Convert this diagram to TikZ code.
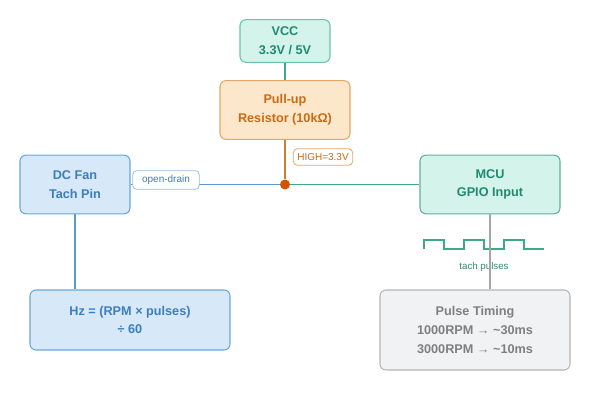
\documentclass[tikz,border=0pt]{standalone}
\usepackage{fontspec}
\setmainfont{Liberation Sans}
\usepackage{tikz}
\usetikzlibrary{positioning}
\definecolor{TealFill}{HTML}{D4F3EA}
\definecolor{TealDraw}{HTML}{6CC4A8}
\definecolor{TealText}{HTML}{1F8A70}
\definecolor{TealWire}{HTML}{3DA88A}
\definecolor{OrangeFill}{HTML}{FDE7CB}
\definecolor{OrangeDraw}{HTML}{E5A66A}
\definecolor{OrangeText}{HTML}{CC6A12}
\definecolor{OrangeWire}{HTML}{D97A36}
\definecolor{DotOrange}{HTML}{D35400}
\definecolor{BlueFill}{HTML}{D7E9F8}
\definecolor{BlueDraw}{HTML}{6AA6D6}
\definecolor{BlueText}{HTML}{3C7DBD}
\definecolor{BlueWire}{HTML}{5B9BD0}
\definecolor{GrayFill}{HTML}{F1F2F3}
\definecolor{GrayDraw}{HTML}{B5B5B5}
\definecolor{GrayText}{HTML}{7F7F7F}
\definecolor{GrayWire}{HTML}{A5A5A5}
\tikzset{
    box/.style={rectangle, rounded corners=4.5pt, align=center, inner sep=2pt,
        line width=0.8pt, font=\bfseries\fontsize{9.5}{14}\selectfont},
    tealbox/.style={box, draw=TealDraw, fill=TealFill, text=TealText},
    orangebox/.style={box, draw=OrangeDraw, fill=OrangeFill, text=OrangeText},
    bluebox/.style={box, draw=BlueDraw, fill=BlueFill, text=BlueText},
    graybox/.style={box, draw=GrayDraw, fill=GrayFill, text=GrayText},
    tag/.style={rectangle, rounded corners=3pt, fill=white, inner xsep=3pt, inner ysep=3.5pt,
        line width=0.6pt, font=\fontsize{7.5}{9}\selectfont},
    wire/.style={line width=1.2pt},
    pulse/.style={line width=1.5pt, draw=TealWire}
}
\begin{document}
\begin{tikzpicture}[x=0.75pt, y=-0.75pt]
    \useasboundingbox (0,0) rectangle (600,400);
    \node[tealbox, minimum width=67.5pt, minimum height=32pt] (vcc) at (285,41)
        {VCC\\3.3V / 5V};
    \node[orangebox, minimum width=97.5pt, minimum height=44pt] (pullup) at (285,110)
        {Pull-up\\Resistor (10kΩ)};
    \node[bluebox, minimum width=82.5pt, minimum height=44pt] (fan) at (75,184.5)
        {DC Fan\\Tach Pin};
    \node[tealbox, draw=TealDraw!90!black, minimum width=105pt, minimum height=44pt] (mcu) at (490,184.5)
        {MCU\\GPIO Input};
    \node[bluebox, minimum width=150pt, minimum height=45pt] (hz) at (130,320)
        {Hz = (RPM × pulses)\\÷ 60};
    \node[graybox, minimum width=142.5pt, minimum height=60pt] (timing) at (475,330)
        {Pulse Timing\\1000RPM → \textasciitilde30ms\\3000RPM → \textasciitilde10ms};
    \node[circle, fill=DotOrange, inner sep=0pt, minimum size=7.5pt] (dot) at (285,184.5) {};
    \coordinate (wave) at (424,249);
    % connectors
    \draw[wire, TealWire] (vcc) -- (pullup);
    \draw[wire, OrangeWire] (pullup) -- (dot);
    \draw[wire, BlueWire] (fan) -- (dot);
    \draw[wire, TealWire] (dot) -- (mcu);
    \draw[wire, BlueWire] (fan) -- (fan |- hz.north);
    \node[tag, inner xsep=7pt, draw=BlueDraw!70, text=BlueText] (drain) at (166,180) {open-drain};
    \node[tag, draw=OrangeDraw, text=OrangeText] (high) at (323,157) {HIGH=3.3V};
    % pulse train
    \draw[pulse] (wave) \foreach \i in {1,2,3} { -- ++(0,-9) -- ++(20,0) -- ++(0,9) -- ++(20,0) };
    \node[font=\fontsize{7.3}{9}\selectfont, text=TealText!80!gray] (tach) at (484,267) {tach pulses};
    \draw[wire, GrayWire] (mcu.south) -- (mcu.south |- timing.north);
\end{tikzpicture}
\end{document}
